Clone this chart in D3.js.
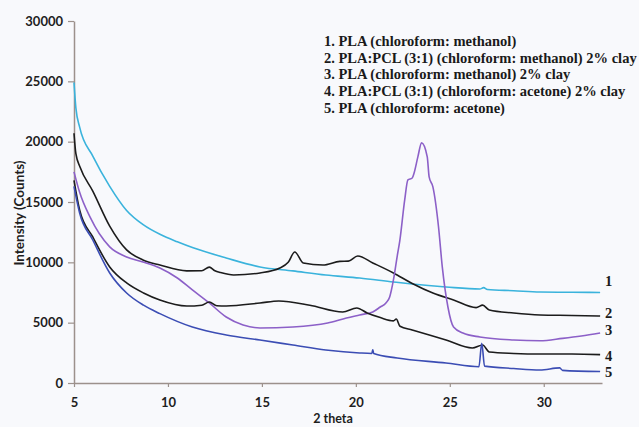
<!DOCTYPE html>
<html>
<head>
<meta charset="utf-8">
<script src="https://cdn.jsdelivr.net/npm/d3@7"></script>
<style>
  body { margin: 0; background: #f8f9fc; }
  svg { display: block; }
</style>
</head>
<body>
<div id="chart"></div>
<script>
// data (2 theta, intensity counts)
var xTicks = [5, 10, 15, 20, 25, 30];
var yTicks = [0, 5000, 10000, 15000, 20000, 25000, 30000];

var s1 = [[5,24900],[5.1,22800],[5.3,21200],[6,18800],[6.9,16300],[7.8,14300],[8.7,13100],[9.6,12300],[10.5,11700],[11.34,11200],[13.1,10360],[14.9,9620],[16.65,9290],[18.4,8950],[20.2,8700],[22,8370],[23,8200],[24.8,7960],[26.6,7790],[26.8,7900],[27,7750],[28.4,7650],[29.8,7540],[31.5,7520],[33,7500]];
var s2 = [[5,20700],[5.1,19000],[5.32,17900],[6,15900],[6.9,13000],[7.8,11030],[8.67,10200],[9.57,9780],[11,9290],[11.8,9300],[12.2,9600],[12.5,9300],[12.8,9150],[13.5,8950],[14.9,9120],[15.96,9530],[16.4,10000],[16.75,10860],[17.2,9950],[18.25,9780],[19.15,10080],[19.6,10100],[20.1,10530],[20.9,9950],[22,9120],[23,8250],[24.1,7460],[25.2,6880],[26.4,6250],[26.75,6450],[27.1,6050],[28.4,5800],[29.8,5640],[31.5,5600],[33,5550]];
var s3 = [[5,17500],[5.3,15800],[5.85,13760],[6.9,11280],[7.8,10450],[8.67,10030],[9.57,9530],[10.5,8700],[11.3,7710],[12.2,6630],[13.1,5470],[14,4810],[14.9,4560],[16.65,4640],[18.5,4970],[19.5,5390],[20.2,5640],[20.9,5890],[21.3,6300],[21.6,6630],[21.8,7130],[22,8540],[22.2,10500],[22.34,11800],[22.6,15170],[22.77,16830],[23,16990],[23.1,17410],[23.3,18740],[23.5,19900],[23.8,18740],[23.9,17080],[24.1,16250],[24.4,12930],[24.6,9620],[24.9,6300],[25.2,4640],[25.7,4140],[26.6,3810],[28.4,3560],[29.8,3500],[31,3700],[32,3900],[33,4150]];
var s4 = [[5,16800],[5.3,14340],[6,12100],[6.9,9620],[7.8,8290],[8.7,7460],[9.57,6880],[11,6380],[11.8,6450],[12.2,6710],[12.6,6400],[13.1,6380],[14.9,6630],[15.9,6800],[17.55,6450],[19.3,5890],[20.05,6220],[20.6,5800],[21.3,5420],[22,5150],[22.15,5300],[22.35,4700],[23,4390],[24.8,3560],[26.2,2900],[26.75,3150],[27.1,2570],[28.4,2450],[29.8,2400],[31.5,2400],[33,2350]];
var s5 = [[5,16300],[5.3,14090],[6,11850],[6.9,9120],[7.8,7460],[8.7,6450],[9.57,5750],[11.3,4640],[13.1,3980],[14.9,3560],[16.65,3150],[18.4,2740],[20.2,2490],[20.85,2450],[20.9,2750],[20.95,2450],[22.2,2070],[24.8,1660],[26.55,1350],[26.7,3300],[26.85,1400],[28.4,1200],[29.8,1080],[30.85,1250],[31,1050],[33,950]];

var seriesColors = ["#3ab3dc", "#1c1c1c", "#8c60c8", "#1c1c1c", "#3b4db4"];
var seriesLabels = ["1", "2", "3", "4", "5"];
var labelY = [8460, 5800, 4390, 2240, 910];
var legendLines = [
  "1. PLA (chloroform: methanol)",
  "2. PLA:PCL (3:1) (chloroform: methanol) 2% clay",
  "3. PLA (chloroform: methanol) 2% clay",
  "4. PLA:PCL (3:1) (chloroform: acetone) 2% clay",
  "5. PLA (chloroform: acetone)"
];

var W = 639, H = 427;
var margin = {top: 21, right: 37, bottom: 44, left: 74},
    width = W - margin.left - margin.right,
    height = H - margin.top - margin.bottom;

var svg = d3.select("#chart")
  .append("svg")
    .attr("width", W)
    .attr("height", H)
  .append("g")
    .attr("transform", "translate(" + margin.left + "," + margin.top + ")");

var x = d3.scaleLinear().domain([5, 33.1]).range([0, width]);
var y = d3.scaleLinear().domain([0, 30000]).range([height, 0]);

var axisColor = "#9c918c";

var xAxis = svg.append("g")
  .attr("transform", "translate(0," + height + ")")
  .call(d3.axisBottom(x).tickValues(xTicks).tickFormat(d3.format("d")).tickSize(4).tickPadding(11).tickSizeOuter(0));
var yAxis = svg.append("g")
  .call(d3.axisLeft(y).tickValues(yTicks).tickFormat(d3.format("d")).tickSize(6).tickPadding(5).tickSizeOuter(0));

[xAxis, yAxis].forEach(function(a) {
  a.select(".domain").attr("stroke", axisColor).attr("stroke-width", 1.5);
  a.selectAll(".tick line").attr("stroke", axisColor).attr("stroke-width", 1.2);
  a.selectAll(".tick text")
    .attr("fill", "#1e1e1e")
    .style("font-family", "Lato, sans-serif")
    .style("font-weight", "bold")
    .style("font-size", "13px");
});

var line = d3.line()
  .curve(d3.curveMonotoneX)
  .x(function(d) { return x(d[0]); })
  .y(function(d) { return y(d[1]); });

var all = [s1, s2, s3, s4, s5];
svg.selectAll("myLines")
  .data(all)
  .enter()
  .append("path")
    .attr("d", function(d) { return line(d); })
    .attr("stroke", function(d, i) { return seriesColors[i]; })
    .style("stroke-width", 1.6)
    .style("fill", "none");

// end labels
svg.selectAll("endLabels")
  .data(seriesLabels)
  .enter()
  .append("text")
    .attr("x", x(33.1) + 3)
    .attr("y", function(d, i) { return y(labelY[i]); })
    .attr("dy", "0.35em")
    .style("font-family", "'Liberation Serif', 'Times New Roman', serif")
    .style("font-weight", "bold")
    .style("font-size", "14.5px")
    .attr("fill", "#1a1a1a")
    .text(function(d) { return d; });

// legend
svg.append("g")
  .attr("transform", "translate(250,25)")
  .selectAll("text")
  .data(legendLines)
  .enter()
  .append("text")
    .attr("x", 0)
    .attr("y", function(d, i) { return i * 16.7; })
    .style("font-family", "'Liberation Serif', 'Times New Roman', serif")
    .style("font-weight", "bold")
    .style("font-size", "14.5px")
    .attr("fill", "#1a1a1a")
    .text(function(d) { return d; });

// axis titles
svg.append("text")
  .attr("transform", "rotate(-90)")
  .attr("x", -(213 - margin.top))
  .attr("y", 19 - margin.left)
  .attr("dy", "0.35em")
  .attr("text-anchor", "middle")
  .style("font-family", "Lato, sans-serif")
  .style("font-weight", "bold")
  .style("font-size", "13.5px")
  .attr("fill", "#1e1e1e")
  .text("Intensity (Counts)");

svg.append("text")
  .attr("x", 333 - margin.left)
  .attr("y", 423 - margin.top)
  .attr("text-anchor", "middle")
  .style("font-family", "Lato, sans-serif")
  .style("font-weight", "bold")
  .style("font-size", "12.5px")
  .attr("fill", "#1e1e1e")
  .text("2 theta");
</script>
</body>
</html>
